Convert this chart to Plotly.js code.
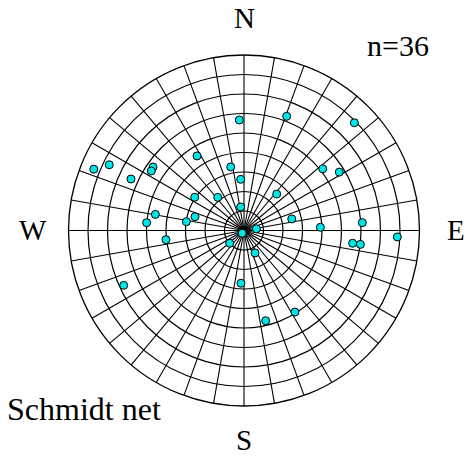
<!DOCTYPE html>
<html>
<head>
<meta charset="utf-8">
<script src="https://cdn.plot.ly/plotly-3.0.1.min.js"></script>
<style>html,body{margin:0;padding:0;background:#fff;}#chart{width:470px;height:461px;}</style>
</head>
<body>
<div id="chart"></div>
<script>
// Azimuth (degrees clockwise from N) and dip (degrees from centre, 0 = centre, 90 = rim)
var azimuth = [357.6, 327.8, 348.2, 356.3, 292.2, 296.0, 304.9, 302.7, 294.5, 304.0,
               321.6, 352.0, 280.3, 285.7, 274.6, 278.7, 213.7, 20.5, 45.7, 51.9,
               58.5, 41.9, 76.4, 87.6, 86.2, 82.1, 228.2, 92.4, 96.7, 96.8,
               263.3, 153.9, 245.5, 183.3, 166.5, 148.0];
var dip = [56.7, 45.2, 33.3, 26.3, 83.2, 76.9, 56.9, 56.5, 63.7, 30.5,
           21.7, 12.2, 46.2, 26.1, 50.1, 29.9, 1.7, 62.5, 79.1, 51.3,
           57.3, 25.1, 25.2, 39.2, 60.8, 6.4, 9.8, 78.7, 56.1, 60.1,
           40.3, 12.8, 67.8, 27.1, 47.6, 49.3];
var ringValues = [10, 20, 30, 40, 50, 60, 70, 80, 90];
var labels = ["N", "E", "S", "W"];
var countLabel = "n=" + azimuth.length;
var netLabel = "Schmidt net";

var W = 470, H = 461;
function px(x){return x / W;}
function py(y){return 1 - y / H;}
var serif = "Liberation Serif, Times New Roman, serif";

var trace = {
  type: "scatterpolar",
  mode: "markers",
  r: dip,
  theta: azimuth,
  marker: {size: 8, color: "#00e6e6", line: {color: "#000", width: 1}},
  hoverinfo: "skip",
  showlegend: false
};

var layout = {
  width: W, height: H,
  margin: {l: 0, r: 0, t: 0, b: 0},
  paper_bgcolor: "#fff",
  showlegend: false,
  polar: {
    domain: {x: [68.5 / W, 419.5 / W], y: [55 / H, 406 / H]},
    bgcolor: "#fff",
    radialaxis: {
      range: [0, 90],
      tickvals: ringValues,
      showticklabels: false,
      ticks: "",
      showline: false,
      gridcolor: "#000",
      gridwidth: 1.2,
      layer: "below traces"
    },
    angularaxis: {
      direction: "clockwise",
      rotation: 90,
      tickmode: "linear",
      tick0: 0,
      dtick: 10,
      showticklabels: false,
      ticks: "",
      showline: true,
      linecolor: "#000",
      linewidth: 1.3,
      gridcolor: "#000",
      gridwidth: 1.1,
      layer: "below traces"
    }
  },
  annotations: [
    {text: labels[0], x: px(244), y: py(18), xref: "paper", yref: "paper", xanchor: "center", yanchor: "middle", showarrow: false, font: {family: serif, size: 29, color: "#000"}},
    {text: labels[1], x: px(456), y: py(230), xref: "paper", yref: "paper", xanchor: "center", yanchor: "middle", showarrow: false, font: {family: serif, size: 29, color: "#000"}},
    {text: labels[2], x: px(244), y: py(440), xref: "paper", yref: "paper", xanchor: "center", yanchor: "middle", showarrow: false, font: {family: serif, size: 29, color: "#000"}},
    {text: labels[3], x: px(33), y: py(230), xref: "paper", yref: "paper", xanchor: "center", yanchor: "middle", showarrow: false, font: {family: serif, size: 29, color: "#000"}},
    {text: countLabel, x: px(398), y: py(45), xref: "paper", yref: "paper", xanchor: "center", yanchor: "middle", showarrow: false, font: {family: serif, size: 30, color: "#000"}},
    {text: netLabel, x: px(5), y: py(409), xref: "paper", yref: "paper", xanchor: "left", yanchor: "middle", showarrow: false, font: {family: serif, size: 32, color: "#000"}}
  ]
};

Plotly.newPlot("chart", [trace], layout, {displayModeBar: false, staticPlot: true});
</script>
</body>
</html>
